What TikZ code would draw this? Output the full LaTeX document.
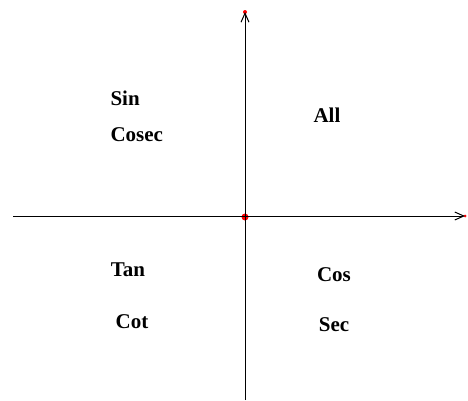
\documentclass[tikz,border=0pt]{standalone}
\usepackage{fontspec}
\setmainfont{Liberation Serif}[BoldFont={Liberation Serif Bold}]
\usetikzlibrary{arrows.meta}

\begin{document}
\begin{tikzpicture}[x=1pt, y=-1pt, >={Straight Barb[length=9pt,width=8pt]},
  every node/.style={font=\bfseries\fontsize{21}{24}\selectfont},
  axis/.style={line width=1pt},
  dot/.style={circle, fill=red, inner sep=0pt, minimum size=7pt}]
\useasboundingbox (0,0) rectangle (468,400);
% axes
\coordinate (xl) at (13,216);
\coordinate (xr) at (465,216);
\coordinate (yb) at (245,400);
\coordinate (yt) at (245,12);
\node[dot] (origin) at (245,217) {};
\node[dot, minimum size=3pt] (xend) at (xr) {};
\node[dot, minimum size=4pt] (yend) at (yt) {};
\draw[axis, ->] (xl) -- (xend.center);
\draw[axis, ->] (yb) -- (yend.center);
% quadrant labels
\node[anchor=west] (sin) at (107,98) {Sin};
\node[anchor=west] (cosec) at (107,135) {Cosec};
\node (all) at (327,115) {All};
\node (tan) at (128,270) {Tan};
\node (cot) at (132,322) {Cot};
\node (cos) at (334,275) {Cos};
\node (sec) at (334,325) {Sec};
\end{tikzpicture}
\end{document}
